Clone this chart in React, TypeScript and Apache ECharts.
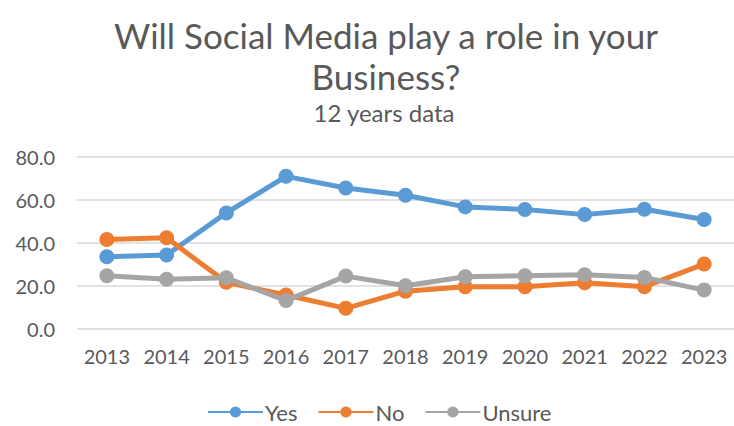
import React, { useEffect, useRef } from "react";
import * as echarts from "echarts";

const years = ["2013", "2014", "2015", "2016", "2017", "2018", "2019", "2020", "2021", "2022", "2023"];
const yesValues = [33.6, 34.4, 54.0, 71.0, 65.6, 62.2, 56.8, 55.6, 53.2, 55.7, 50.9];
const noValues = [41.6, 42.4, 21.7, 15.8, 9.6, 17.6, 19.7, 19.7, 21.5, 19.7, 30.2];
const unsureValues = [24.8, 23.1, 23.8, 13.2, 24.6, 20.1, 24.3, 24.8, 25.2, 24.0, 18.1];

const FONT = "Lato, 'Open Sans', sans-serif";
const TEXT = "#595959";

export default function App() {
  const ref = useRef<HTMLDivElement>(null);
  useEffect(() => {
    if (!ref.current) return;
    const chart = echarts.init(ref.current, undefined, { renderer: "svg" });
    const mk = (name: string, data: number[], color: string) => ({
      name,
      type: "line",
      data,
      symbol: "circle",
      symbolSize: 15,
      lineStyle: { width: 5, color },
      itemStyle: { color },
      z: name === "Unsure" ? 4 : name === "No" ? 3 : 2,
    });
    chart.setOption({
      animation: false,
      backgroundColor: "#ffffff",
      textStyle: { fontFamily: FONT },
      title: [
        {
          text: "Will Social Media play a role in your\nBusiness?",
          left: 381,
          textAlign: "center",
          top: 9,
          textStyle: { fontSize: 35, fontWeight: "normal", color: TEXT, fontFamily: FONT, lineHeight: 41 },
        },
        {
          text: "12 years data",
          left: 379,
          textAlign: "center",
          top: 95,
          textStyle: { fontSize: 24, fontWeight: "normal", color: TEXT, fontFamily: FONT },
        },
      ],
      legend: {
        bottom: 3,
        left: 207,
        padding: 0,
        itemWidth: 55,
        itemHeight: 14,
        itemGap: 20,
        textStyle: { fontSize: 22, color: TEXT, fontFamily: FONT, padding: [0, 0, 0, -3] },
        data: ["Yes", "No", "Unsure"],
      },
      grid: { left: 77, right: 0, top: 157, bottom: 97 },
      xAxis: {
        type: "category",
        data: years,
        boundaryGap: true,
        axisLine: { show: false },
        axisTick: { show: false },
        axisLabel: { fontSize: 20, color: TEXT, fontFamily: FONT, margin: 17, interval: 0 },
      },
      yAxis: {
        type: "value",
        min: 0,
        max: 80,
        interval: 20,
        axisLine: { show: false },
        axisTick: { show: false },
        splitLine: { lineStyle: { color: "#d9d9d9", width: 1.5 } },
        axisLabel: {
          fontSize: 20,
          color: TEXT,
          fontFamily: FONT,
          margin: 22,
          formatter: (v: number) => v.toFixed(1),
        },
      },
      series: [
        mk("Yes", yesValues, "#5b9bd5"),
        mk("No", noValues, "#ed7d31"),
        mk("Unsure", unsureValues, "#a5a5a5"),
      ],
    });
    return () => chart.dispose();
  }, []);
  return (
    <div
      ref={ref}
      style={{ position: "fixed", left: 0, top: 0, width: 734, height: 426 }}
    />
  );
}
